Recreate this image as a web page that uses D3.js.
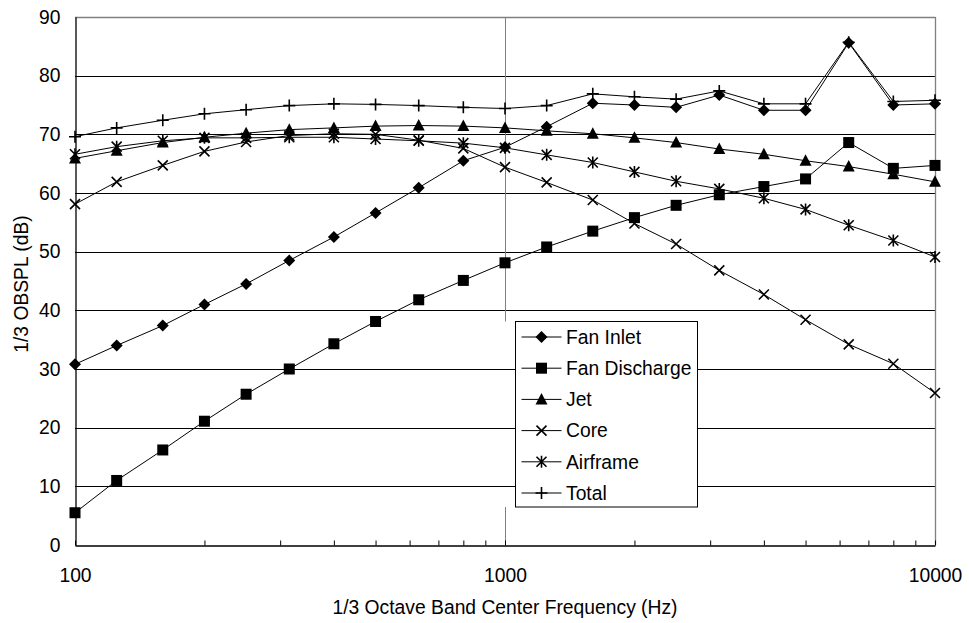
<!DOCTYPE html>
<html>
<head>
<meta charset="utf-8">
<script src="https://cdn.jsdelivr.net/npm/d3@7"></script>
<style>
  html, body { margin: 0; padding: 0; background: #fff; }
  svg { display: block; }
  text { font-family: "Liberation Sans", Arial, sans-serif; fill: #000; }
</style>
</head>
<body>
<svg id="chart" width="969" height="623"></svg>
<script>
// 1/3 octave band centre frequencies (Hz)
const frequencies = [100, 125, 160, 200, 250, 315, 400, 500, 630, 800, 1000,
                     1250, 1600, 2000, 2500, 3150, 4000, 5000, 6300, 8000, 10000];

// Band levels, 1/3 OBSPL (dB)
const fanInlet     = [30.8, 34.0, 37.4, 41.0, 44.5, 48.5, 52.5, 56.6, 60.9, 65.5, 67.8,
                      71.3, 75.3, 75.0, 74.6, 76.7, 74.1, 74.1, 85.6, 75.0, 75.2];
const fanDischarge = [5.5, 11.0, 16.2, 21.1, 25.7, 30.0, 34.3, 38.1, 41.8, 45.1, 48.1,
                      50.8, 53.5, 55.8, 57.9, 59.7, 61.1, 62.4, 68.6, 64.2, 64.7];
const jet          = [65.9, 67.2, 68.6, 69.5, 70.2, 70.8, 71.1, 71.4, 71.5, 71.4, 71.1,
                      70.6, 70.1, 69.4, 68.6, 67.5, 66.6, 65.5, 64.5, 63.2, 61.9];
const core         = [58.1, 61.9, 64.7, 67.1, 68.7, 69.8, 70.1, 70.0, 69.0, 67.6, 64.4,
                      61.8, 58.8, 54.8, 51.3, 46.8, 42.7, 38.4, 34.2, 30.9, 25.9];
const airframe     = [66.6, 67.9, 68.9, 69.4, 69.4, 69.5, 69.5, 69.2, 68.9, 68.5, 67.7,
                      66.5, 65.2, 63.6, 62.0, 60.7, 59.1, 57.2, 54.5, 51.9, 49.1];
const total        = [69.6, 71.1, 72.4, 73.5, 74.2, 74.9, 75.2, 75.1, 74.9, 74.6, 74.4,
                      74.9, 76.9, 76.4, 76.0, 77.4, 75.2, 75.2, 85.7, 75.6, 75.8];

const seriesNames  = ["Fan Inlet", "Fan Discharge", "Jet", "Core", "Airframe", "Total"];
const seriesValues = [fanInlet, fanDischarge, jet, core, airframe, total];
const markerKinds  = ["diamond", "square", "triangle", "cross", "asterisk", "plus"];

const yTicks = [0, 10, 20, 30, 40, 50, 60, 70, 80, 90];
const xLabelTicks = [100, 1000, 10000];
const xMinorTicks = [200, 300, 400, 500, 600, 700, 800, 900,
                     2000, 3000, 4000, 5000, 6000, 7000, 8000, 9000];

const xTitle = "1/3 Octave Band Center Frequency (Hz)";
const yTitle = "1/3 OBSPL (dB)";

// ---- layout ----
const plot = { left: 75, right: 935, top: 17, bottom: 545 };
const fontSize = 19.3;

const svg = d3.select("#chart");

const x = d3.scaleLog().domain([100, 10000]).range([plot.left, plot.right]);
const y = d3.scaleLinear().domain([0, 90]).range([plot.bottom, plot.top]);

// legend box geometry
const legend = { x: 515.5, y: 321.5, w: 182, h: 185.5, rowH: 31.2, firstRow: 337 };

// ---- gridlines ----
const grid = svg.append("g");
grid.selectAll("line.h")
  .data(yTicks.filter(v => v > 0 && v < 90))
  .join("line")
  .attr("x1", plot.left).attr("x2", plot.right)
  .attr("y1", d => Math.round(y(d)) + 0.5).attr("y2", d => Math.round(y(d)) + 0.5)
  .attr("stroke", "#000").attr("stroke-width", 1);

// vertical line at 1000 Hz, interrupted behind the legend
const x1000 = Math.round(x(1000)) + 0.5;
grid.append("line")
  .attr("x1", x1000).attr("x2", x1000)
  .attr("y1", y(90)).attr("y2", legend.y)
  .attr("stroke", "#808080").attr("stroke-width", 1);
grid.append("line")
  .attr("x1", x1000).attr("x2", x1000)
  .attr("y1", legend.y + legend.h).attr("y2", y(0))
  .attr("stroke", "#808080").attr("stroke-width", 1);

// plot frame: top and right in grey
svg.append("line")
  .attr("x1", plot.left).attr("x2", plot.right + 0.5)
  .attr("y1", Math.round(y(90)) + 0.5).attr("y2", Math.round(y(90)) + 0.5)
  .attr("stroke", "#808080").attr("stroke-width", 1.3);
svg.append("line")
  .attr("x1", plot.right + 0.5).attr("x2", plot.right + 0.5)
  .attr("y1", y(90)).attr("y2", y(0))
  .attr("stroke", "#808080").attr("stroke-width", 1.3);

// ---- axes ----
const yAxis = d3.axisLeft(y).tickValues(yTicks).tickSize(0).tickPadding(15)
  .tickFormat(d3.format("d"));
const yg = svg.append("g").attr("transform", `translate(${plot.left + 0.5},0)`).call(yAxis);
yg.select(".domain").attr("stroke", "#000").attr("stroke-width", 1.3);
yg.selectAll("text").attr("font-size", fontSize)
  .attr("font-family", "Liberation Sans, Arial, sans-serif");

const xAxis = d3.axisBottom(x)
  .tickValues(xLabelTicks.concat(xMinorTicks))
  .tickSizeInner(-5).tickSizeOuter(0).tickPadding(23)
  .tickFormat(d => xLabelTicks.includes(d) ? String(d) : "");
const xg = svg.append("g").attr("transform", `translate(0,${Math.round(plot.bottom) + 0.5})`).call(xAxis);
xg.select(".domain").attr("stroke", "#000").attr("stroke-width", 1.3);
xg.selectAll(".tick line").attr("stroke", "#000");
xg.selectAll("text").attr("font-size", fontSize)
  .attr("font-family", "Liberation Sans, Arial, sans-serif");

// ---- axis titles ----
svg.append("text")
  .attr("x", (plot.left + plot.right) / 2).attr("y", 614)
  .attr("text-anchor", "middle").attr("font-size", fontSize)
  .text(xTitle);
svg.append("text")
  .attr("transform", `translate(28,${(plot.top + plot.bottom) / 2 + 3}) rotate(-90)`)
  .attr("text-anchor", "middle").attr("font-size", fontSize)
  .text(yTitle);

// ---- markers ----
function drawMarker(g, kind) {
  const sw = 1.6;
  switch (kind) {
    case "diamond":
      g.append("path").attr("d", "M0,-6L6,0L0,6L-6,0Z").attr("fill", "#000");
      break;
    case "square":
      g.append("rect").attr("x", -5.5).attr("y", -5.5).attr("width", 11).attr("height", 11)
        .attr("fill", "#000");
      break;
    case "triangle":
      g.append("path").attr("d", "M0,-6.5L6,5L-6,5Z").attr("fill", "#000");
      break;
    case "cross":
      g.append("path").attr("d", "M-5,-5L5,5M-5,5L5,-5")
        .attr("stroke", "#000").attr("stroke-width", sw).attr("fill", "none");
      break;
    case "asterisk":
      g.append("path").attr("d", "M-5,-5L5,5M-5,5L5,-5M0,-6L0,6")
        .attr("stroke", "#000").attr("stroke-width", sw).attr("fill", "none");
      break;
    case "plus":
      g.append("path").attr("d", "M-6,0L6,0M0,-6L0,6")
        .attr("stroke", "#000").attr("stroke-width", sw).attr("fill", "none");
      break;
  }
}

// ---- series ----
const line = d3.line().x(d => x(d.f)).y(d => y(d.v));

seriesValues.forEach((vals, i) => {
  const pts = frequencies.map((f, j) => ({ f, v: vals[j] }));
  const g = svg.append("g").attr("class", "series");
  g.append("path").datum(pts)
    .attr("d", line).attr("fill", "none")
    .attr("stroke", "#000").attr("stroke-width", 1);
  g.selectAll("g.m").data(pts).join("g")
    .attr("class", "m")
    .attr("transform", d => `translate(${x(d.f)},${y(d.v)})`)
    .each(function () { drawMarker(d3.select(this), markerKinds[i]); });
});

// ---- legend ----
const lg = svg.append("g");
lg.append("rect")
  .attr("x", legend.x).attr("y", legend.y)
  .attr("width", legend.w).attr("height", legend.h)
  .attr("fill", "#fff").attr("stroke", "#000").attr("stroke-width", 1);

seriesNames.forEach((name, i) => {
  const cy = legend.firstRow + i * legend.rowH;
  const row = lg.append("g");
  row.append("line")
    .attr("x1", legend.x + 6).attr("x2", legend.x + 46)
    .attr("y1", cy).attr("y2", cy)
    .attr("stroke", "#000").attr("stroke-width", 1);
  const m = row.append("g").attr("transform", `translate(${legend.x + 26},${cy})`);
  drawMarker(m, markerKinds[i]);
  row.append("text")
    .attr("x", legend.x + 50.5).attr("y", cy)
    .attr("dy", "0.35em").attr("font-size", fontSize)
    .text(name);
});
</script>
</body>
</html>
